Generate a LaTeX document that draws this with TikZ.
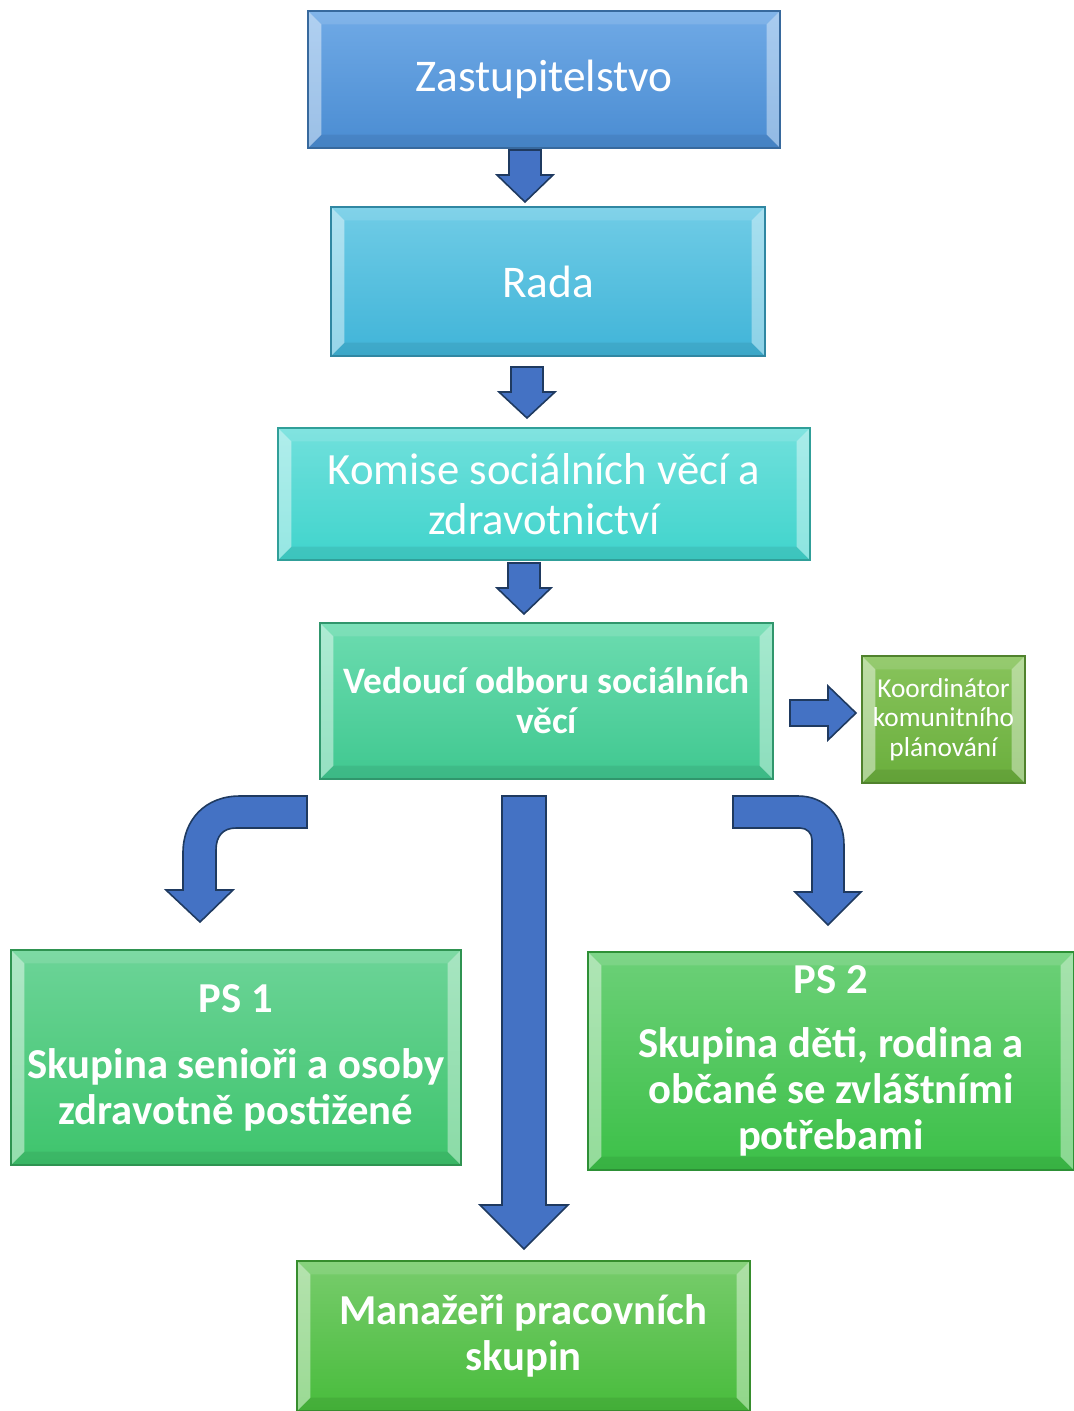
\documentclass[tikz,border=0pt]{standalone}
\usepackage{fontspec}
\setmainfont{Carlito}
\usetikzlibrary{calc}

\definecolor{zastT}{HTML}{70AAE6}\definecolor{zastB}{HTML}{4A8CD2}
\definecolor{radaT}{HTML}{70CCE6}\definecolor{radaB}{HTML}{40B4D8}
\definecolor{komT}{HTML}{70E0DC}\definecolor{komB}{HTML}{40D4CC}
\definecolor{vedT}{HTML}{6CDCB0}\definecolor{vedB}{HTML}{40C890}
\definecolor{koordT}{HTML}{88C45C}\definecolor{koordB}{HTML}{6AAE3C}
\definecolor{psaT}{HTML}{6CD498}\definecolor{psaB}{HTML}{3EC46C}
\definecolor{psbT}{HTML}{6CD078}\definecolor{psbB}{HTML}{3CC048}
\definecolor{manT}{HTML}{78CC6C}\definecolor{manB}{HTML}{48BC3C}
\definecolor{arrowC}{HTML}{4472C4}
\definecolor{arrowD}{HTML}{1F3A60}

\newcommand{\bev}{10pt}
\newcommand{\ppb}{path picture bounding box}

\tikzset{
  box/.style 2 args={top color=#1, bottom color=#2, draw=#2!75!black,
    line width=0.8pt, text=white, align=center, inner sep=0pt,
    path picture={
      \fill[white,opacity=.45] (\ppb.north west) -- ([xshift=\bev,yshift=-\bev]\ppb.north west)
        -- ([xshift=\bev,yshift=\bev]\ppb.south west) -- (\ppb.south west) -- cycle;
      \fill[white,opacity=.4] (\ppb.north east) -- ([xshift=-\bev,yshift=-\bev]\ppb.north east)
        -- ([xshift=-\bev,yshift=\bev]\ppb.south east) -- (\ppb.south east) -- cycle;
      \fill[white,opacity=.12] (\ppb.north west) -- (\ppb.north east)
        -- ([xshift=-\bev,yshift=-\bev]\ppb.north east) -- ([xshift=\bev,yshift=-\bev]\ppb.north west) -- cycle;
      \fill[black,opacity=.07] (\ppb.south west) -- (\ppb.south east)
        -- ([xshift=-\bev,yshift=\bev]\ppb.south east) -- ([xshift=\bev,yshift=\bev]\ppb.south west) -- cycle;
    }},
  boxsize/.style 2 args={minimum width=#1*0.75pt, minimum height=#2*0.75pt},
  blockarr/.style={fill=arrowC, draw=arrowD, line width=1.2pt, line join=miter},
}

\begin{document}
\begin{tikzpicture}[x=0.75pt,y=-0.75pt]
\useasboundingbox (0,0) rectangle (1074,1411);

% boxes
\node[box={zastT}{zastB}, boxsize={472}{137}, font=\fontsize{34}{40}\selectfont] (zast) at (544,79.5) {Zastupitelstvo};
\node[box={radaT}{radaB}, boxsize={434}{149}, font=\fontsize{34}{40}\selectfont] (rada) at (548,281.5) {Rada};
\node[box={komT}{komB}, boxsize={532}{132}, font=\fontsize{33.5}{37.5}\selectfont] (komise) at (544,494) {Komise sociálních věcí a\\zdravotnictví};
\node[box={vedT}{vedB}, boxsize={453}{156}, font=\bfseries\fontsize{28}{30}\selectfont] (vedouci) at (546.5,701) {Vedoucí odboru sociálních\\věcí};
\node[box={koordT}{koordB}, boxsize={163}{127}, font=\fontsize{20.5}{22}\selectfont] (koord) at (943.5,719.5) {Koordinátor\\komunitního\\plánování};
\node[box={psaT}{psaB}, boxsize={450}{215}, font=\bfseries\fontsize{32}{34}\selectfont] (ps1) at (236,1057.5) {PS 1\\[16pt]Skupina senioři a osoby\\zdravotně postižené};
\node[box={psbT}{psbB}, boxsize={486}{218}, font=\bfseries\fontsize{32}{34.5}\selectfont] (ps2) at (831,1061) {PS 2\\[13pt]Skupina děti, rodina a\\občané se zvláštními\\potřebami};
\node[box={manT}{manB}, boxsize={453}{150}, font=\bfseries\fontsize{32}{35}\selectfont] (manazeri) at (523.5,1336) {Manažeři pracovních\\skupin};

% straight arrows
\draw[blockarr, shift={(525,150)}] (-16,0) -- (16,0) -- (16,25) -- (28,25) -- (0,52) -- (-28,25) -- (-16,25) -- cycle;
\draw[blockarr, shift={(527,367)}] (-16,0) -- (16,0) -- (16,25) -- (28,25) -- (0,51) -- (-28,25) -- (-16,25) -- cycle;
\draw[blockarr, shift={(524,563)}] (-16,0) -- (16,0) -- (16,25) -- (27,25) -- (0,51) -- (-27,25) -- (-16,25) -- cycle;
\draw[blockarr, shift={(790,713)}] (0,-13) -- (38,-13) -- (38,-27) -- (66,0) -- (38,27) -- (38,13) -- (0,13) -- cycle;
\draw[blockarr, shift={(524,796)}] (-22,0) -- (22,0) -- (22,409) -- (44,409) -- (0,453) -- (-44,409) -- (-22,409) -- cycle;

% bent arrows
\draw[blockarr] (307,796) -- (240,796) .. controls (205,796) and (183,820) .. (183,853)
  -- (183,890) -- (166,890) -- (200,922) -- (233,890) -- (216,890) -- (216,850)
  .. controls (216,836) and (223,828) .. (236,828) -- (307,828) -- cycle;
\draw[blockarr] (733,796) -- (798,796) .. controls (825,796) and (844,816) .. (844,845)
  -- (844,892) -- (861,892) -- (828,925) -- (795,892) -- (812,892) -- (812,840)
  .. controls (812,833) and (807,828) .. (800,828) -- (733,828) -- cycle;
\end{tikzpicture}
\end{document}
